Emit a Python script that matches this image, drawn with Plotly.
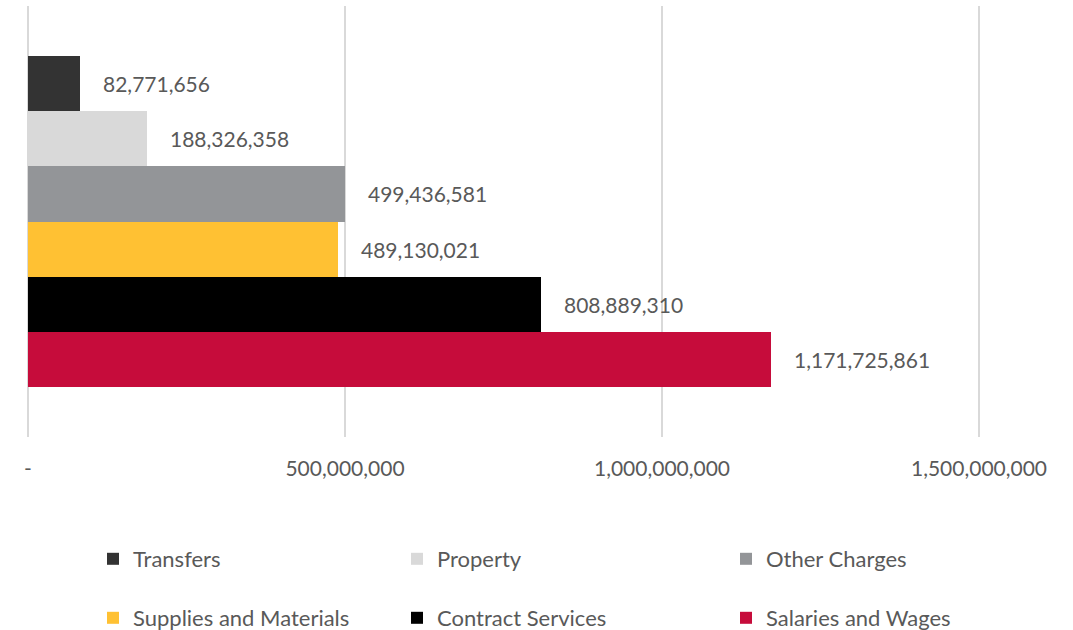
import plotly.graph_objects as go

# Data
series_names = ["Transfers", "Property", "Other Charges",
                "Supplies and Materials", "Contract Services", "Salaries and Wages"]
series_values = [82771656, 188326358, 499436581, 489130021, 808889310, 1171725861]
series_colors = ["#333333", "#D9D9D9", "#939598", "#FFC133", "#000000", "#C60C3B"]
tick_values = [0, 500000000, 1000000000, 1500000000]
tick_labels = ["-", "500,000,000", "1,000,000,000", "1,500,000,000"]

FONT = "Lato"
TXT = "#595959"

# bottom-to-top order for y categories
y_order = list(reversed(series_names))

# layout geometry (pixels)
ZERO_PX, MAX_PX = 28, 979          # where 0 and 1.5e9 fall
PAD = 2                             # keep edge gridlines visible
PLOT_L, PLOT_R = ZERO_PX - PAD, MAX_PX + PAD
PLOT_T, PLOT_B = 6, 437
scale = tick_values[-1] / (MAX_PX - ZERO_PX)
x_range = [-PAD * scale, tick_values[-1] + PAD * scale]

leg_cols = [107, 411, 740]
leg_rows = [559, 618]

fig = go.Figure()
annotations = []
for i, (name, val, col) in enumerate(zip(series_names, series_values, series_colors)):
    leg_id = "legend" if i == 0 else f"legend{i+1}"
    fig.add_trace(go.Bar(
        x=[val], y=[name], orientation="h", name=name,
        marker=dict(color=col, line=dict(width=0)),
        legend=leg_id, hoverinfo="x+name",
    ))
    annotations.append(dict(
        x=val, y=name, xref="x", yref="y", text=f"{val:,}",
        xanchor="left", yanchor="middle", xshift=21, showarrow=False,
        font=dict(family=FONT, size=21, color=TXT),
    ))

layout_legends = {}
for i, name in enumerate(series_names):
    leg_id = "legend" if i == 0 else f"legend{i+1}"
    col = leg_cols[i % 3]
    row = leg_rows[i // 3]
    layout_legends[leg_id] = dict(
        x=(col - 14 - PLOT_L) / (PLOT_R - PLOT_L),
        y=(PLOT_B - row) / (PLOT_B - PLOT_T),
        xanchor="left", yanchor="middle",
        orientation="h", bgcolor="rgba(0,0,0,0)", borderwidth=0,
        font=dict(family=FONT, size=22, color=TXT),
        itemclick=False, itemdoubleclick=False,
    )

fig.update_layout(
    width=1073, height=630,
    margin=dict(l=PLOT_L, r=1073 - PLOT_R, t=PLOT_T, b=630 - PLOT_B, autoexpand=False),
    paper_bgcolor="white", plot_bgcolor="white",
    barmode="group", bargap=0, bargroupgap=0,
    showlegend=True,
    font=dict(family=FONT, size=21, color=TXT),
    xaxis=dict(
        range=x_range, tickvals=tick_values, ticktext=tick_labels,
        showgrid=True, gridcolor="#D9D9D9", gridwidth=2,
        zeroline=False, showline=False, ticks="", ticklabelstandoff=17,
        tickfont=dict(family=FONT, size=21, color=TXT),
    ),
    yaxis=dict(
        type="category", categoryorder="array", categoryarray=y_order,
        range=[-1.4, 6.4], visible=False, showgrid=False,
    ),
    annotations=annotations,
    **layout_legends,
)

fig.write_html("out.html", config={"displayModeBar": False},
               post_script="document.body.style.margin='0';")
